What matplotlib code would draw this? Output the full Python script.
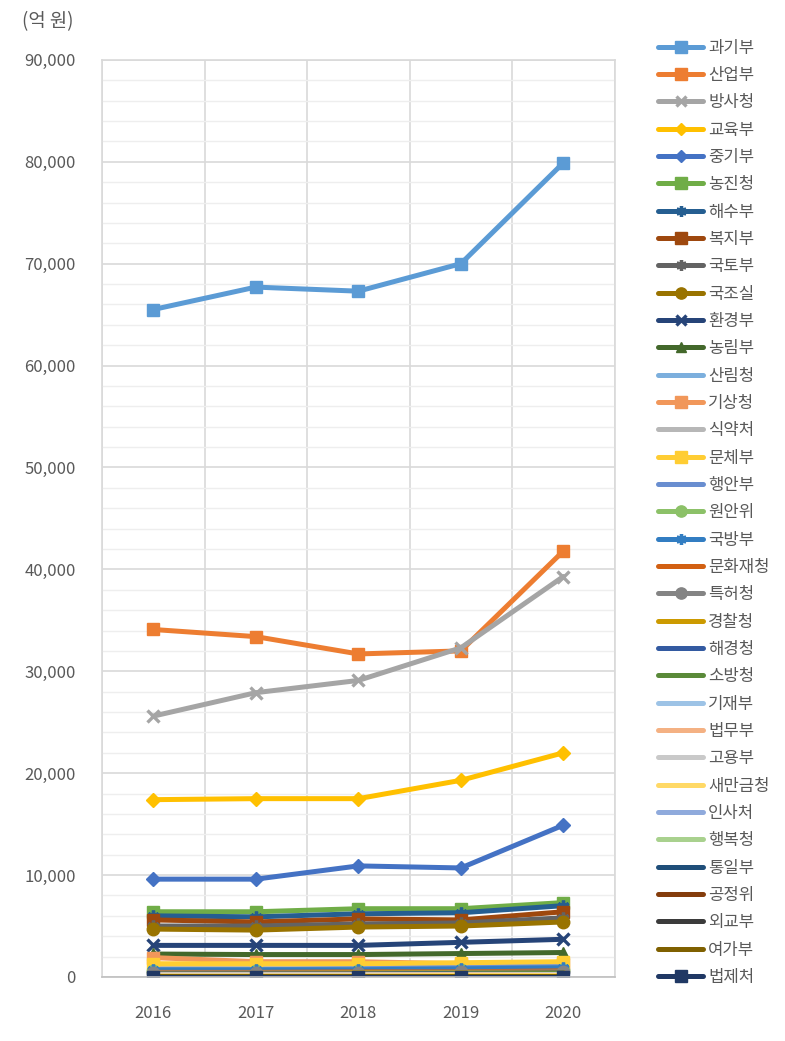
import matplotlib
matplotlib.use("Agg")
import matplotlib.pyplot as plt
from matplotlib.ticker import MultipleLocator, FuncFormatter

plt.rcParams['font.family'] = ['Noto Sans CJK KR', 'DejaVu Sans']

years = ['2016', '2017', '2018', '2019', '2020']

# series name, values (억 원)
names = ['과기부', '산업부', '방사청', '교육부', '중기부', '농진청', '해수부', '복지부',
         '국토부', '국조실', '환경부', '농림부', '산림청', '기상청', '식약처', '문체부',
         '행안부', '원안위', '국방부', '문화재청', '특허청', '경찰청', '해경청', '소방청',
         '기재부', '법무부', '고용부', '새만금청', '인사처', '행복청', '통일부', '공정위',
         '외교부', '여가부', '법제처']

values = [
    [65500, 67700, 67300, 70000, 79900],  # 과기부
    [34100, 33400, 31700, 32000, 41800],  # 산업부
    [25600, 27900, 29100, 32300, 39300],  # 방사청
    [17400, 17500, 17500, 19300, 22000],  # 교육부
    [9600, 9600, 10900, 10700, 14900],    # 중기부
    [6400, 6400, 6700, 6700, 7300],       # 농진청
    [6000, 5900, 6200, 6300, 7000],       # 해수부
    [5600, 5400, 5700, 5600, 6400],       # 복지부
    [5000, 5000, 5200, 5300, 5800],       # 국토부
    [4700, 4600, 4900, 5000, 5400],       # 국조실
    [3100, 3100, 3100, 3400, 3700],       # 환경부
    [2250, 2200, 2200, 2300, 2400],       # 농림부
    [1100, 1100, 1100, 1200, 1300],       # 산림청
    [1900, 1500, 1500, 1300, 1300],       # 기상청
    [900, 900, 1000, 1000, 1100],         # 식약처
    [1300, 1300, 1300, 1400, 1500],       # 문체부
    [700, 700, 800, 900, 1000],           # 행안부
    [600, 600, 600, 700, 700],            # 원안위
    [700, 700, 700, 800, 900],            # 국방부
    [450, 450, 500, 500, 600],            # 문화재청
    [400, 400, 400, 450, 500],            # 특허청
    [350, 350, 400, 400, 450],            # 경찰청
    [300, 300, 300, 350, 400],            # 해경청
    [250, 250, 250, 300, 350],            # 소방청
    [300, 300, 300, 300, 300],            # 기재부
    [200, 200, 200, 250, 250],            # 법무부
    [200, 200, 200, 200, 250],            # 고용부
    [100, 100, 100, 150, 150],            # 새만금청
    [100, 100, 100, 100, 100],            # 인사처
    [100, 100, 100, 100, 100],            # 행복청
    [100, 100, 100, 100, 100],            # 통일부
    [50, 50, 50, 50, 50],                 # 공정위
    [50, 50, 50, 50, 50],                 # 외교부
    [50, 50, 50, 50, 50],                 # 여가부
    [20, 20, 20, 20, 20],                 # 법제처
]

colors = ['#5B9BD5', '#ED7D31', '#A5A5A5', '#FFC000', '#4472C4', '#70AD47',
          '#255E91', '#9E480E', '#636363', '#997300', '#264478', '#43682B',
          '#7CAFDD', '#F1975A', '#B7B7B7', '#FFCD33', '#698ED0', '#8CC168',
          '#327DC2', '#D26012', '#848484', '#CC9A00', '#335AA1', '#5A8A39',
          '#9DC3E6', '#F4B183', '#C9C9C9', '#FFD966', '#8FAADC', '#A9D18E',
          '#1F4E79', '#843C0C', '#3B3B3B', '#7F6000', '#203864']

asterisk = (6, 2, 0)
markers = ['s', 's', 'x', 'D', 'D', 's', asterisk, 's', asterisk, 'o', 'x', '^',
           None, 's', None, 's', None, 'o', asterisk, None, 'o', None, None, None,
           None, None, None, None, None, None, None, None, None, None, 's']

fig = plt.figure(figsize=(7.85, 10.41), dpi=100)
ax = fig.add_axes([0.130, 0.0615, 0.653, 0.881])

x = range(len(years))
for name, vals, c, m in zip(names, values, colors, markers):
    ms = 9
    if m == 'D':
        ms = 7
    elif m in ('x', asterisk, '^'):
        ms = 8.5
    ax.plot(x, vals, color=c, lw=3.6, marker=m, ms=ms, mew=2.4 if m in ('x', asterisk) else 1,
            mec=c, mfc=c, label=name, solid_capstyle='round')

ax.set_xlim(-0.5, len(years) - 0.5)
ax.set_ylim(0, 90000)
ax.set_xticks(list(x))
ax.set_xticklabels(years)
ax.yaxis.set_major_locator(MultipleLocator(10000))
ax.yaxis.set_minor_locator(MultipleLocator(2000))
ax.yaxis.set_major_formatter(FuncFormatter(lambda v, p: f'{int(v):,}'))
ax.set_xticks([i + 0.5 for i in range(-1, len(years))], minor=True)
ax.grid(which='major', axis='y', color='#d9d9d9', lw=1.2)
ax.grid(which='minor', axis='y', color='#eeeeee', lw=1.0)
ax.grid(which='minor', axis='x', color='#d9d9d9', lw=1.2)
ax.set_axisbelow(True)
for s in ax.spines.values():
    s.set_color('#d9d9d9')
    s.set_linewidth(1.2)
ax.spines['bottom'].set_color('#bfbfbf')
ax.tick_params(which='both', length=0)
ax.tick_params(axis='y', pad=19, labelsize=12, labelcolor='#595959')
ax.tick_params(axis='x', pad=20, labelsize=12, labelcolor='#595959')

fig.text(0.028, 0.979, '(억 원)', fontsize=13.5, color='#595959', va='center', ha='left')

leg = fig.legend(loc='upper left', bbox_to_anchor=(0.828, 0.970), frameon=False,
                 fontsize=12, labelspacing=0.62, handlelength=2.7, handletextpad=0.3,
                 borderpad=0, markerscale=0.9)
for t in leg.get_texts():
    t.set_color('#595959')

fig.savefig('out.png', dpi=100)
